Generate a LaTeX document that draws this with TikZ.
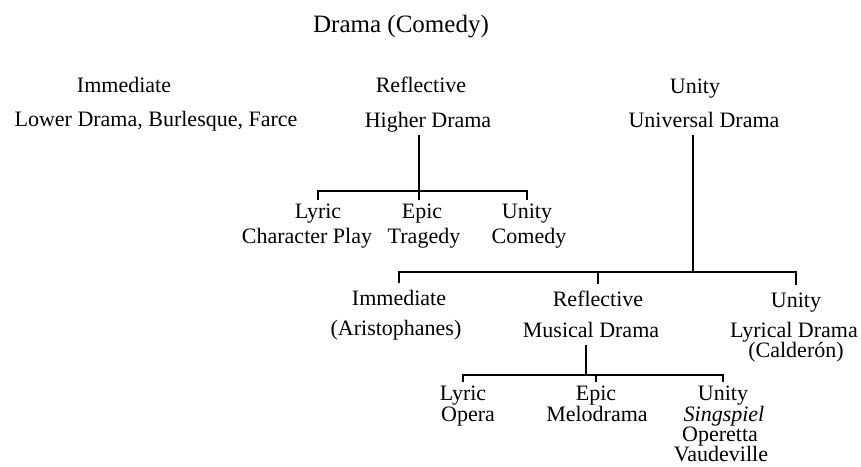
\documentclass[tikz,border=0pt]{standalone}
\usepackage{fontspec}
\setmainfont{Liberation Serif}
\begin{document}
\begin{tikzpicture}[x=1pt, y=-1pt,
        txt/.style={anchor=base, inner sep=0pt, outer ysep=3pt, text height=15pt, text depth=5pt, font=\fontsize{22}{26}\selectfont},
        branch/.style={line width=1.6pt}]
        \useasboundingbox (0,0) rectangle (861,466);

        % Titulo
        \node[txt, font=\fontsize{25}{30}\selectfont] (drama) at (401,32) {Drama (Comedy)};

        % Primer nivel
        \node[txt] (imm) at (124,92) {Immediate};
        \node[txt] (lower) at (156,126) {Lower Drama, Burlesque, Farce};
        \node[txt] (refl) at (421,92) {Reflective};
        \node[txt] (higher) at (428,127) {Higher Drama};
        \node[txt] (unity) at (695,93) {Unity};
        \node[txt] (universal) at (704,127) {Universal Drama};

        % Higher Drama
        \node[txt] (lyricA) at (318,218) {Lyric};
        \node[txt] (charplay) at (307,243) {Character Play};
        \node[txt] (epicA) at (422,218) {Epic};
        \node[txt] (tragedy) at (424,243) {Tragedy};
        \node[txt] (unityA) at (527,218) {Unity};
        \node[txt] (comedy) at (529,243) {Comedy};

        \coordinate (barA) at (419,191);
        \draw[branch] (higher.south -| barA) -- (barA);
        \draw[branch] (lyricA.north) |- (barA) -| (unityA.north);
        \draw[branch] (barA) -- (epicA.north -| barA);

        % Universal Drama
        \node[txt] (immB) at (399,305) {Immediate};
        \node[txt] (aristo) at (396,335) {(Aristophanes)};
        \node[txt] (reflB) at (598,306) {Reflective};
        \node[txt] (musical) at (591,337) {Musical Drama};
        \node[txt] (unityB) at (796,307) {Unity};
        \node[txt] (lyrical) at (794,337) {Lyrical Drama};
        \node[txt] (calderon) at (796,357) {(Calderón)};

        \coordinate (barB) at (693,272);
        \draw[branch] (universal.south -| barB) -- (barB);
        \draw[branch, shorten <=4pt, shorten >=4pt] (immB.north) |- (barB) -| (unityB.north);
        \draw[branch, shorten >=4pt] (reflB.north |- barB) -- (reflB.north);

        % Musical Drama
        \node[txt] (lyricC) at (463,400) {Lyric};
        \node[txt] (opera) at (468,421) {Opera};
        \node[txt] (epicC) at (596,400) {Epic};
        \node[txt] (melo) at (597,421) {Melodrama};
        \node[txt] (unityC) at (723,400) {Unity};
        \node[txt] (singspiel) at (724,421) {\itshape Singspiel};
        \node[txt] (operetta) at (720,441) {Operetta};
        \node[txt, text depth=0pt] (vaudeville) at (721,461) {Vaudeville};

        \coordinate (barC) at (586,375);
        \draw[branch] (musical.south -| barC) -- (barC);
        \draw[branch] (lyricC.north) |- (barC) -| (unityC.north);
        \draw[branch] (epicC.north |- barC) -- (epicC.north);
    \end{tikzpicture}
\end{document}
